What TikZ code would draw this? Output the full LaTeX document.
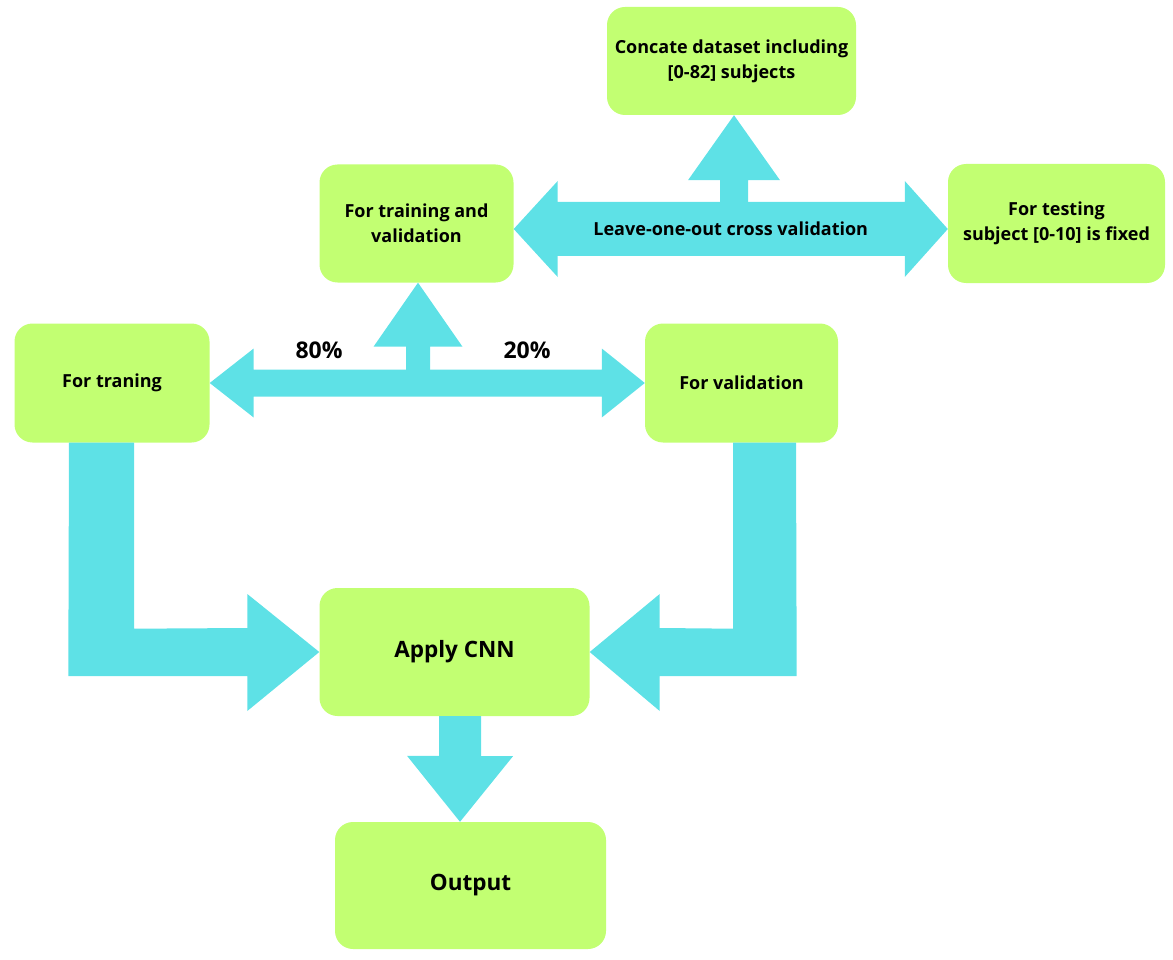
\documentclass[tikz,border=0pt]{standalone}
\usepackage{fontspec}
\setmainfont{Open Sans}
\usetikzlibrary{calc}
\definecolor{boxgreen}{RGB}{194,255,114}
\definecolor{flowcyan}{RGB}{94,225,230}
\tikzset{
  box/.style={fill=boxgreen, rounded corners=18pt, inner sep=0pt, align=center,
    font=\bfseries\fontsize{18}{25}\selectfont},
  bigbox/.style={box, font=\bfseries\fontsize{22.5}{26}\selectfont},
  flow/.style={fill=flowcyan},
  pct/.style={font=\bfseries\fontsize{23}{26}\selectfont},
}
\begin{document}
\begin{tikzpicture}[x=1pt,y=-1pt]
\useasboundingbox (0,0) rectangle (1173,960);
% boxes
\node[box, minimum width=249pt, minimum height=108pt] (concat) at (731.5,61){Concate dataset including\\{[0-82]} subjects};
\node[box, minimum width=194pt, minimum height=118pt] (trainval) at (416.5,223.5){For training and\\validation};
\node[box, minimum width=217pt, minimum height=119pt] (testing) at (1056.5,223.5){For testing\\subject [0-10] is fixed};
\node[box, minimum width=195pt, minimum height=119pt] (training) at (112,383){For traning};
\node[box, minimum width=193pt, minimum height=119pt] (valid) at (741.5,383){For validation};
\node[bigbox, minimum width=270pt, minimum height=128pt] (cnn) at (454.5,652){Apply CNN};
\node[bigbox, minimum width=271pt, minimum height=127pt] (output) at (470.5,885.5){Output};
% leave-one-out arrow
\coordinate (lootip) at ([yshift=-5.5pt]trainval.east);
\coordinate (loitip) at ([yshift=-5.5pt]testing.west);
\fill[flow] (lootip) -- ++(44,-48) -- ++(0,21) -- ($(loitip)+(-43,-27)$) -- ++(0,-21)
  -- (loitip) -- ++(-43,48) -- ++(0,-21) -- ($(lootip)+(44,27)$) -- ++(0,21) -- cycle;
\fill[flow] ([xshift=2.5pt]concat.south) -- ++(46,65) -- ++(-32,0) -- ++(0,26) -- ++(-28,0)
  -- ++(0,-26) -- ++(-32,0) -- cycle;
\node[font=\bfseries\fontsize{18}{20}\selectfont] (loo) at ($(lootip)!0.5!(loitip)$){Leave-one-out cross validation};
% split arrow
\fill[flow] (training.east) -- ++(44,-34.5) -- ++(0,21) -- ($(valid.west)+(-43,-13.5)$) -- ++(0,-21)
  -- (valid.west) -- ++(-43,34.5) -- ++(0,-21) -- ($(training.east)+(44,13.5)$) -- ++(0,21) -- cycle;
\fill[flow] ([xshift=1.5pt]trainval.south) -- ++(44.5,64) -- ++(-32.5,0) -- ++(0,24) -- ++(-24,0)
  -- ++(0,-24) -- ++(-32.5,0) -- cycle;
\node[pct] (p80) at (319,350){80\%};
\node[pct] (p20) at (527,350){20\%};
% into the CNN
\fill[flow] ($(training.south)+(-43,0)$) -- ++(65,0) -- ++(0,186) -- ($(cnn.west)+(-72,-24)$) -- ++(0,-34)
  -- (cnn.west) -- ++(-72,59) -- ++(0,-35) -- ++(-179,0) -- cycle;
\fill[flow] ($(valid.south)+(54.5,0)$) -- ++(-63,0) -- ++(0,186) -- ($(cnn.east)+(70,-24)$) -- ++(0,-34)
  -- (cnn.east) -- ++(70,59) -- ++(0,-35) -- ++(137,0) -- cycle;
% to the output
\fill[flow] ([xshift=-15.5pt]cnn.south) -- ++(42,0) -- ++(0,40) -- ++(32,0)
  -- ([xshift=-10.5pt]output.north) -- ++(-53,-66) -- ++(32,0) -- cycle;
\end{tikzpicture}
\end{document}
